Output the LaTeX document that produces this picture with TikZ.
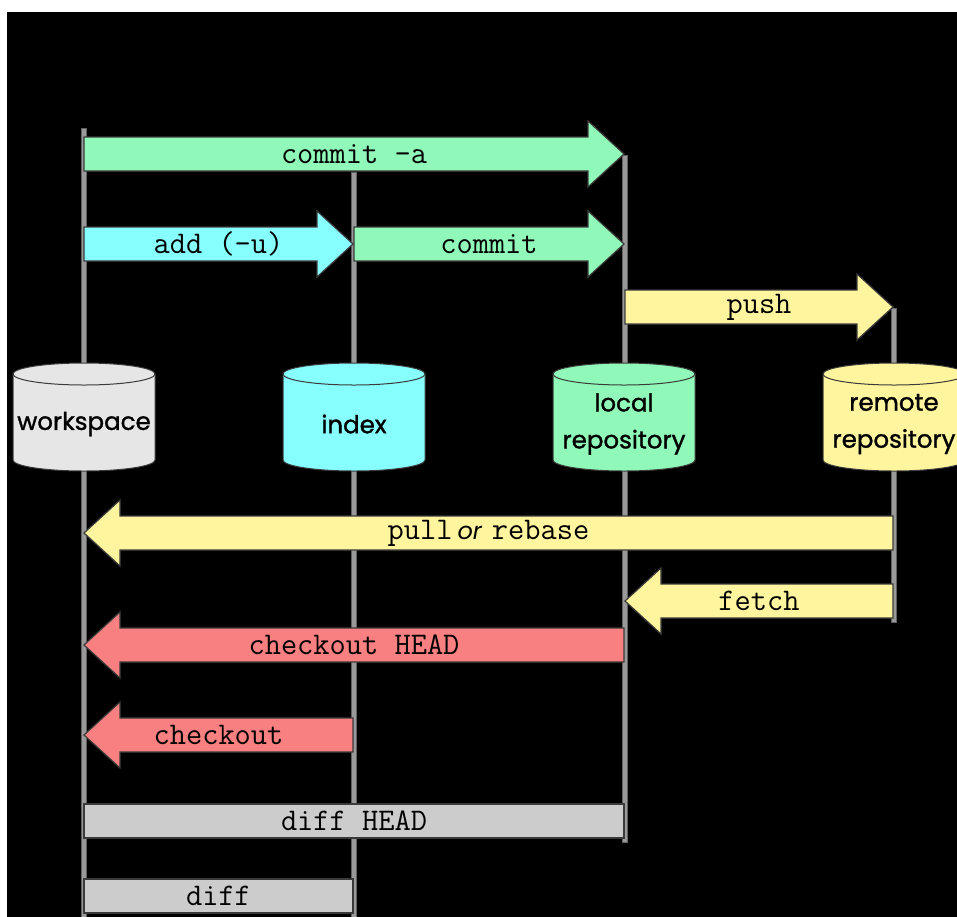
\documentclass[tikz,border=0pt]{standalone}
\usepackage{fontspec}
\newfontfamily\storefont{Poppins}[FakeBold=1.3]
\newfontfamily\wordfont{Poppins}
\definecolor{gitgreen}{HTML}{90F8B8}
\definecolor{gitcyan}{HTML}{88FFFF}
\definecolor{gityellow}{HTML}{FFF59E}
\definecolor{gitred}{HTML}{F88080}
\definecolor{gitgray}{HTML}{CCCCCC}
\definecolor{wsgray}{HTML}{E6E6E6}
\definecolor{linegray}{HTML}{999999}
\definecolor{edge}{HTML}{3A3A3A}
\tikzset{
  arrowline/.style={draw=edge, line width=1.2pt, line join=miter},
  cmdlabel/.style={font=\ttfamily\fontsize{31.5}{34}\selectfont, text=black, inner sep=0pt},
  storelabel/.style={font=\storefont\fontsize{24.5}{37}\selectfont, text=black, align=center, inner sep=0pt},
  timeline/.style={fill=linegray, draw=edge!80, line width=0.8pt},
}
% flow arrow: name, fill, tail x, tip x, centre y, label
\newcommand\gitarrow[6]{%
  \pgfmathsetmacro\headbase{#4 + ((#3<#4) ? -36 : 36)}%
  \draw[arrowline, fill=#2] (#3,#5-17) -- (\headbase,#5-17) -- (\headbase,#5-33)
    -- (#4,#5) -- (\headbase,#5+33) -- (\headbase,#5+17) -- (#3,#5+17) -- cycle;
  \node[cmdlabel] (#1) at ({(#3+#4)/2},#5) {#6};%
}
% plain bar: name, fill, left x, right x, centre y, label
\newcommand\gitbar[6]{%
  \draw[arrowline, fill=#2] (#3,#5-17) rectangle (#4,#5+17);
  \node[cmdlabel] (#1) at ({(#3+#4)/2},#5) {#6};%
}
% store cylinder: name, fill, centre x, label
\newcommand\gitstore[4]{%
  \draw[edge, line width=1pt, fill=#2] (#3-71,374) -- (#3-71,460) arc (180:0:71 and 11) -- (#3+71,374) -- cycle;
  \draw[edge, line width=1pt, fill=#2] (#3,374) ellipse (71 and 11);
  \node[storelabel] (#1) at (#3,424) {#4};%
}
\begin{document}
\begin{tikzpicture}[x=1pt, y=1pt, yscale=-1]
  \useasboundingbox (0,0) rectangle (957,916);
  \clip (0,0) rectangle (957,916);
  \fill[white] (0,0) rectangle (957,916);
  \fill[black] (7,12) rectangle (960,920);

  % timelines of the four stores
  \draw[timeline] (81,128) rectangle (86,920);
  \draw[timeline] (351,172) rectangle (356,920);
  \draw[timeline] (622,155) rectangle (627,842);
  \draw[timeline] (891,308) rectangle (896,622);

  % commands moving changes towards the remote
  \gitarrow{commitall}{gitgreen}{84}{624}{154}{commit -a}
  \gitarrow{add}{gitcyan}{84}{353}{244}{add (-u)}
  \gitarrow{commit}{gitgreen}{354}{624}{244}{commit}
  \gitarrow{push}{gityellow}{625}{893}{307}{push}

  % the four stores
  \gitstore{workspace}{wsgray}{84}{workspace}
  \gitstore{index}{gitcyan}{354}{index}
  \gitstore{local}{gitgreen}{624}{local\\repository}
  \gitstore{remote}{gityellow}{894}{remote\\repository}

  % commands moving changes back
  \gitarrow{pull}{gityellow}{893}{84}{533}{pull\hspace{5pt}{\wordfont\itshape\fontsize{24}{30}\selectfont or}\hspace{10pt}rebase}
  \gitarrow{fetch}{gityellow}{893}{625}{601}{fetch}
  \gitarrow{checkouthead}{gitred}{624}{84}{645}{checkout HEAD}
  \gitarrow{checkout}{gitred}{353}{84}{735}{checkout}

  % comparisons
  \gitbar{diffhead}{gitgray}{84}{624}{821}{diff HEAD}
  \gitbar{diff}{gitgray}{84}{353}{896}{diff}
\end{tikzpicture}
\end{document}
